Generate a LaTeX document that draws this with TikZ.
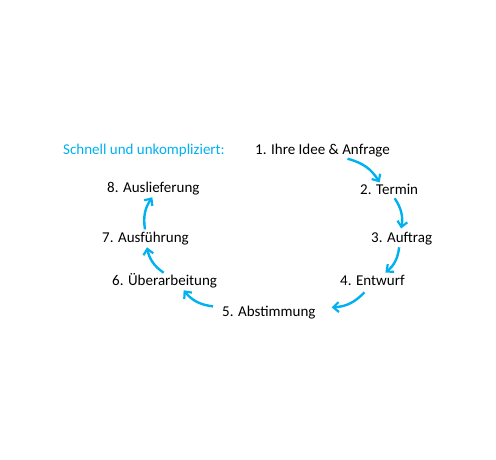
\documentclass[tikz,border=0pt]{standalone}
\usepackage{fontspec}
\setmainfont{Carlito}
\usetikzlibrary{arrows.meta,calc}
\definecolor{ablue}{HTML}{00B0F0}
\begin{document}
\begin{tikzpicture}[x=1bp,y=1bp,
  lbl/.style={inner sep=0pt,anchor=base west,font=\fontsize{15bp}{18bp}\selectfont},
  arr/.style={draw=ablue,line width=2.4bp,-{Straight Barb[length=5.5bp,width=10bp,line width=2.2bp]},bend left=22}]
\useasboundingbox (0,0) rectangle (496,460);
\node[lbl,text=ablue] (hd) at (63,305) {Schnell und unkompliziert:};
\node[lbl] (n1) at (255,305) {1. Ihre Idee \& Anfrage};
\node[lbl] (n2) at (360,265) {2. Termin};
\node[lbl] (n3) at (371,217) {3. Auftrag};
\node[lbl] (n4) at (340,174) {4. Entwurf};
\node[lbl] (n5) at (222,143) {5. Abstimmung};
\node[lbl] (n6) at (112,174) {6. Überarbeitung};
\node[lbl] (n7) at (102,217) {7. Ausführung};
\node[lbl] (n8) at (107,267) {8. Auslieferung};
\draw[arr] ([shift={(25,-1)}]n1.south) to ([shift={(-9.5,2)}]n2.north);
\draw[arr] ([shift={(5.5,-3)}]n2.south) to ([shift={(-0.5,4)}]n3.north);
\draw[arr] ([shift={(-2.5,-1.5)}]n3.south) to ([shift={(13,3)}]n4.north);
\draw[arr] ([shift={(-8,-6)}]n4.south) to ([shift={(16,-1)}]n5.north east);
\draw[arr] ([shift={(-9,0)}]n5.north west) to ([shift={(19,-1.5)}]n6.south);
\draw[arr] ([shift={(-1,1)}]n6.north) to ([shift={(1.5,-1.5)}]n7.south);
\draw[arr] ([shift={(-0.5,3)}]n7.north) to ([shift={(-1,-1.5)}]n8.south);
\end{tikzpicture}
\end{document}
